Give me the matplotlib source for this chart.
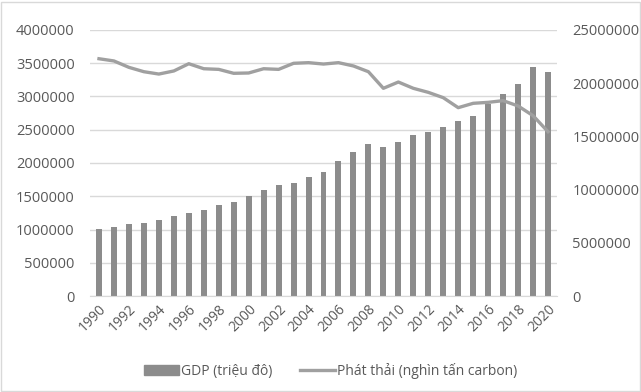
import matplotlib.pyplot as plt
import matplotlib.patches as mpatches
from matplotlib.lines import Line2D
from matplotlib.ticker import FuncFormatter
import numpy as np

plt.rcParams['font.family'] = ['Open Sans', 'DejaVu Sans']

years = list(range(1990, 2021))
gdp = [1003000, 1040000, 1078000, 1098000, 1143000, 1203000, 1248000, 1293000,
       1363000, 1413000, 1508000, 1589000, 1664000, 1699000, 1789000, 1865000,
       2030000, 2170000, 2280000, 2240000, 2316000, 2421000, 2461000, 2546000,
       2627000, 2712000, 2887000, 3038000, 3188000, 3439000, 3368000]
emissions = [22300000, 22090000, 21490000, 21080000, 20860000, 21150000, 21830000,
             21360000, 21300000, 20930000, 20960000, 21360000, 21300000, 21870000,
             21930000, 21800000, 21930000, 21620000, 21080000, 19520000, 20110000,
             19520000, 19140000, 18640000, 17700000, 18110000, 18200000, 18360000,
             17860000, 16950000, 15440000]

text_col = '#595959'
fig = plt.figure(figsize=(6.41, 3.92), dpi=100)
ax = fig.add_axes([90 / 641, 1 - 296 / 392, 467 / 641, 266 / 392])
ax2 = ax.twinx()

x = np.arange(len(years))
ax.bar(x, gdp, width=0.4, color='#8c8c8c', zorder=2)
ax2.plot(x, emissions, color='#a0a0a0', linewidth=2.4, zorder=3)

ax.set_xlim(-0.6, len(years) - 0.4)
ax.set_ylim(0, 4000000)
ax2.set_ylim(0, 25000000)
ax.set_yticks(np.arange(0, 4000001, 500000))
ax2.set_yticks(np.arange(0, 25000001, 5000000))
fmt = FuncFormatter(lambda v, p: f'{int(v)}')
ax.yaxis.set_major_formatter(fmt)
ax2.yaxis.set_major_formatter(fmt)

ax.set_xticks(x[::2])
ax.set_xticklabels([str(y) for y in years[::2]], rotation=45, ha='right',
                   rotation_mode='anchor')

ax.grid(axis='y', color='#d9d9d9', linewidth=1, zorder=0)
ax.set_axisbelow(True)
for a in (ax, ax2):
    for s in a.spines.values():
        s.set_visible(False)
    a.tick_params(length=0, colors=text_col, labelsize=10.5)
ax.spines['bottom'].set_visible(True)
ax.spines['bottom'].set_color('#d9d9d9')
ax.tick_params(axis='y', pad=11)
ax2.tick_params(axis='y', pad=11)
ax.tick_params(axis='x', pad=4, labelsize=10)

handles = [mpatches.Patch(color='#8c8c8c'),
           Line2D([0], [0], color='#a0a0a0', linewidth=2.4)]
fig.legend(handles, ['GDP (triệu đô)', 'Phát thải (nghìn tấn carbon)'],
           loc='center', bbox_to_anchor=(331 / 641, 1 - 371 / 392), ncol=2,
           frameon=False, fontsize=10, labelcolor=text_col,
           handlelength=2.5, handletextpad=0.15, columnspacing=2.0)

fig.patches.append(mpatches.Rectangle((0.002, 0.002), 0.996, 0.994,
                                      transform=fig.transFigure, fill=False,
                                      edgecolor='#d9d9d9', linewidth=1))

fig.savefig('out.png', dpi=100)
